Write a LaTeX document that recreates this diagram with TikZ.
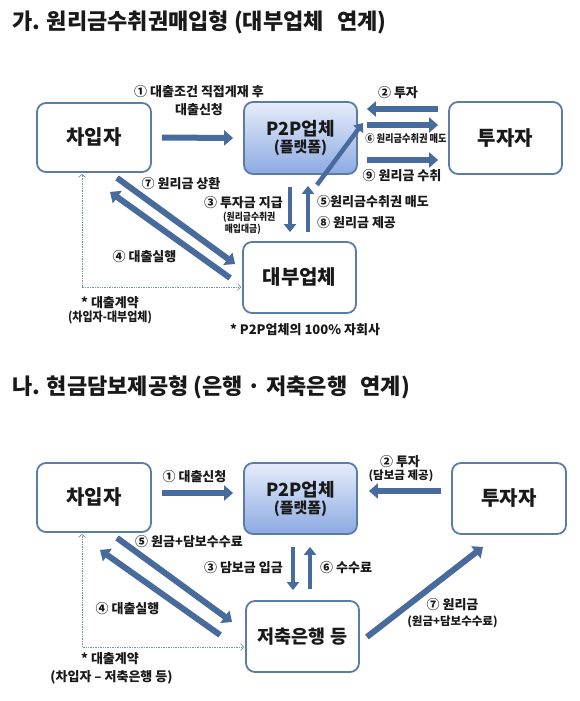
\documentclass[tikz,border=0pt]{standalone}
\usepackage{fontspec}
\setmainfont{Noto Sans CJK KR}
\newfontfamily\krc{Noto Sans CJK KR}[FakeStretch=0.88]
\usetikzlibrary{arrows.meta}
\definecolor{arrc}{RGB}{72,107,158}
\definecolor{boxc}{RGB}{92,124,168}
\definecolor{ptop}{RGB}{230,237,250}
\definecolor{pbot}{RGB}{140,170,226}
\definecolor{txt}{RGB}{25,25,25}
\begin{document}
\begin{tikzpicture}[x=1pt,y=-1pt,
  box/.style={draw=boxc, line width=1.8pt, rounded corners=9pt, fill=white, inner sep=0pt,
    minimum width=114pt, minimum height=71pt, text=txt,
    font=\fontsize{20}{22}\selectfont\bfseries},
  p2pbox/.style={box, top color=ptop, bottom color=pbot, align=center},
  bigarr/.style={draw=arrc, line width=6pt, -{Triangle[length=9pt,width=15pt]}},
  midarr/.style={draw=arrc, line width=4.5pt, -{Triangle[length=8pt,width=12pt]}},
  dotarr/.style={draw=boxc!85, line width=0.7pt, densely dotted,
    {Straight Barb[length=3pt,width=7pt]}-{Straight Barb[length=3pt,width=7pt]}},
  lbl/.style={inner sep=0pt, text=txt, font=\fontsize{13}{15}\selectfont\bfseries},
  slbl/.style={inner sep=0pt, text=txt, font=\krc\fontsize{10.5}{12}\selectfont\bfseries},
  plbl/.style={inner sep=0pt, text=txt, font=\fontsize{11.5}{13}\selectfont\bfseries},
  ttl/.style={inner sep=0pt, anchor=west, text=txt, font=\fontsize{22}{24}\selectfont\bfseries}
]
\useasboundingbox (0,0) rectangle (580,701);
\fill[white] (0,0) rectangle (580,701);

% ---------- Section 1 ----------
\node[ttl] (t1) at (12,22) {가. 원리금수취권매입형 (대부업체\hspace{0.6em}연계)};

\node[box, minimum width=114pt, minimum height=69pt] (b1) at (94,137.5) {차입자};
\node[p2pbox, minimum width=113pt, minimum height=72pt, font=\fontsize{18}{20}\selectfont\bfseries] (p1) at (300.5,138)
  {P2P업체\\[-3pt]{\fontsize{15}{16}\selectfont (플랫폼)}};
\node[box, minimum width=113pt, minimum height=72pt] (i1) at (505.5,138) {투자자};
\node[box, minimum width=113pt, minimum height=71pt] (d1) at (299.5,277.5) {대부업체};

% arrows
\draw[bigarr] ([xshift=10pt]b1.east) -- ([xshift=-10pt]p1.west);
\draw[bigarr] ([xshift=-10pt,yshift=29pt]i1.west) -- ([xshift=9pt,yshift=29pt]p1.east);
\draw[bigarr] ([xshift=9pt,yshift=13pt]p1.east) -- ([xshift=-10pt,yshift=13pt]i1.west);
\draw[bigarr] ([xshift=9pt,yshift=-22pt]p1.east) -- ([xshift=-10pt,yshift=-22pt]i1.west);
\draw[midarr] ([xshift=16.5pt,yshift=-10pt]p1.south) -- ([xshift=5pt,yshift=15pt]p1.east);
\draw[midarr] ([xshift=-10.5pt,yshift=-12pt]p1.south) -- ([xshift=-9.5pt,yshift=9pt]d1.north);
\draw[midarr] ([xshift=8.5pt,yshift=9pt]d1.north) -- ([xshift=7.5pt,yshift=-11pt]p1.south);
\draw[bigarr] ([xshift=23pt,yshift=-5pt]b1.south) -- ([xshift=-7pt,yshift=13.5pt]d1.west);
\draw[bigarr] ([xshift=-12pt,yshift=-0.5pt]d1.west) -- ([xshift=16pt,yshift=-19pt]b1.south);
\draw[dotarr] ([xshift=-1pt,yshift=-9.5pt]d1.west) -| ([xshift=-12pt,yshift=-1pt]b1.south);

% labels
\node[lbl] (l1a) at (199,92) {① 대출조건 직접게재 후};
\node[lbl] (l1b) at (199,110) {대출신청};
\node[lbl] (l2) at (398,93) {② 투자};
\node[slbl] (l6) at (406,139) {⑥ 원리금수취권 매도};
\node[lbl] (l9) at (402,176) {⑨ 원리금 수취};
\node[lbl] (l7) at (181,184) {⑦ 원리금 상환};
\node[lbl, anchor=east] (l3) at (283,203) {③ 투자금 지급};
\node[anchor=north west, align=left, inner sep=0pt, text=txt, font=\krc\fontsize{10}{12.5}\selectfont\bfseries] (l3s) at (223,211.5) {(원리금수취권\\\,매입대금)};
\node[lbl, anchor=west] (l5) at (317,202) {⑤원리금수취권 매도};
\node[lbl, anchor=west] (l8) at (317,223) {⑧ 원리금 제공};
\node[lbl] (l4) at (144.5,257) {④ 대출실행};
\node[lbl] (lc1) at (110,303) {* 대출계약};
\node[slbl, font=\krc\fontsize{12.5}{14}\selectfont\bfseries] (lc2) at (110,318) {(차입자-대부업체)};
\node[lbl] (lsub) at (305,330) {* P2P업체의 100\% 자회사};

% ---------- Section 2 ----------
\node[ttl] (t2) at (12,387) {나. 현금담보제공형 (은행 · 저축은행\hspace{0.6em}연계)};

\node[box, minimum width=114pt, minimum height=69pt] (b2) at (94,497.5) {차입자};
\node[p2pbox, minimum width=113pt, minimum height=71pt, font=\fontsize{18}{20}\selectfont\bfseries] (p2) at (300.5,498.5)
  {P2P업체\\[-3pt]{\fontsize{15}{16}\selectfont (플랫폼)}};
\node[box, minimum width=114pt, minimum height=71pt] (i2) at (509,498.5) {투자자};
\node[box, minimum width=113pt, minimum height=71pt, font=\fontsize{18.5}{20}\selectfont\bfseries] (s2) at (302.5,636.5) {저축은행 등};

\draw[bigarr] ([xshift=10pt,yshift=4.5pt]b2.east) -- ([xshift=-10pt,yshift=5.5pt]p2.west);
\draw[bigarr] ([xshift=-10pt,yshift=7.5pt]i2.west) -- ([xshift=11pt,yshift=7.5pt]p2.east);
\draw[midarr] ([xshift=-7.5pt,yshift=-12pt]p2.south) -- ([xshift=-9.5pt,yshift=10pt]s2.north);
\draw[midarr] ([xshift=7.5pt,yshift=11pt]s2.north) -- ([xshift=9.5pt,yshift=-12pt]p2.south);
\draw[bigarr] ([xshift=23pt,yshift=-5pt]b2.south) -- ([xshift=-13pt,yshift=14.5pt]s2.west);
\draw[bigarr] ([xshift=-25pt,yshift=1.5pt]s2.west) -- ([xshift=6pt,yshift=-17pt]b2.south);
\draw[bigarr] ([xshift=7pt,yshift=-0.5pt]s2.east) -- ([xshift=-26pt,yshift=-12pt]i2.south);
\draw[dotarr] ([xshift=-1pt,yshift=-10.5pt]s2.west) -| ([xshift=-12pt,yshift=-1pt]b2.south);

\node[lbl] (m1) at (194.5,477) {① 대출신청};
\node[lbl] (m2) at (400,462) {② 투자};
\node[plbl] (m2b) at (401,476) {(담보금 제공)};
\node[lbl] (m5) at (189,542) {⑤ 원금+담보수수료};
\node[lbl, anchor=east] (m3) at (283,568) {③ 담보금 입금};
\node[lbl, anchor=west] (m6) at (320,568) {⑥ 수수료};
\node[lbl] (m4) at (127.5,609) {④ 대출실행};
\node[lbl] (m7) at (452.5,605) {⑦ 원리금};
\node[plbl] (m7b) at (452.5,622) {(원금+담보수수료)};
\node[lbl] (mc1) at (110,659) {* 대출계약};
\node[lbl] (mc2) at (111.5,677) {(차입자 – 저축은행 등)};
\end{tikzpicture}
\end{document}
